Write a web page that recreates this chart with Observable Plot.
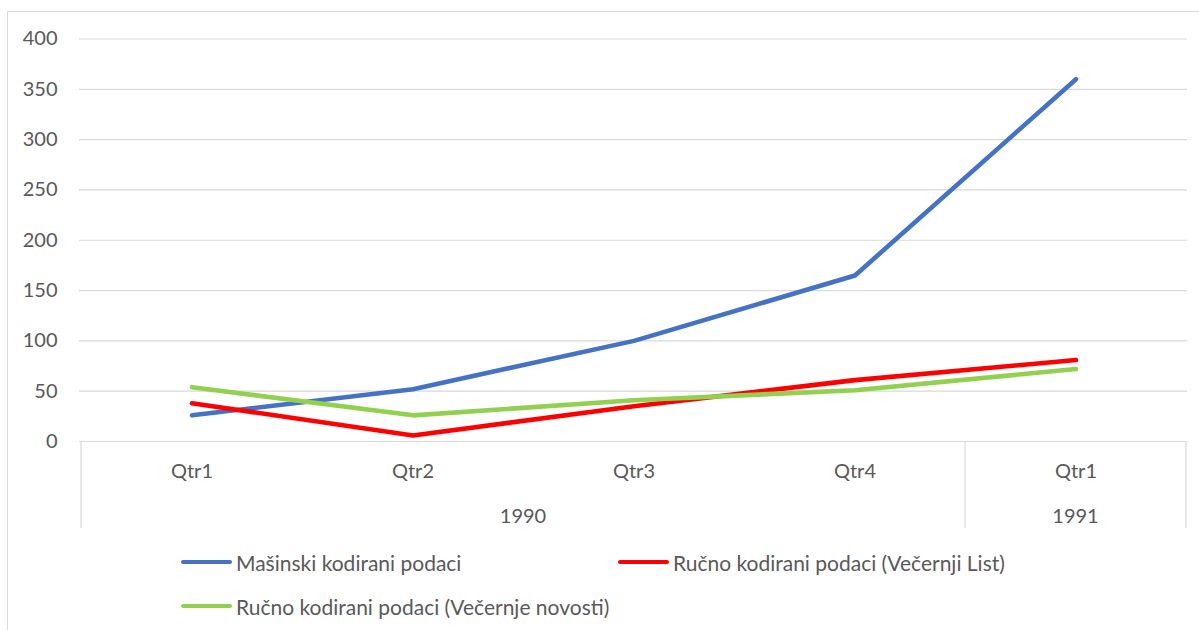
<!DOCTYPE html>
<html>
<head>
<meta charset="utf-8">
<script src="https://cdn.jsdelivr.net/npm/d3@7"></script>
<script src="https://cdn.jsdelivr.net/npm/@observablehq/plot@0.6"></script>
<style>
  html, body { margin: 0; padding: 0; background: #fff; }
  #wrap { position: relative; width: 1199px; height: 630px; overflow: hidden; font-family: Lato, "Open Sans", sans-serif; }
  #frame { position: absolute; left: 7px; top: 11px; width: 1250px; height: 700px; border: 1px solid #d9d9d9; box-sizing: border-box; }
  #chart { position: absolute; left: 0; top: 0; }
  #legend { position: absolute; left: 181px; top: 540px; display: grid; grid-template-columns: 437px auto; grid-auto-rows: 44px; color: #595959; font-size: 21px; }
  .item { display: flex; align-items: center; }
  .swatch { width: 51px; height: 4.5px; border-radius: 3px; margin-right: 4px; }
</style>
</head>
<body>
<div id="wrap">
  <div id="frame"></div>
  <div id="chart"></div>
  <div id="legend"></div>
</div>
<script>
// ---- data ----
const years = ["1990", "1990", "1990", "1990", "1991"];
const quarters = ["Qtr1", "Qtr2", "Qtr3", "Qtr4", "Qtr1"];
const seriesNames = [
  "Mašinski kodirani podaci",
  "Ručno kodirani podaci (Večernji List)",
  "Ručno kodirani podaci (Večernje novosti)"
];
const masinski = [26, 52, 100, 165, 360];
const vecernjiList = [38, 6, 35, 61, 81];
const vecernjeNovosti = [54, 26, 41, 51, 72];
const seriesColors = ["#4472C4", "#FF0000", "#92D050"];
const yTicks = [0, 50, 100, 150, 200, 250, 300, 350, 400];

// ---- build table ----
const keys = years.map((y, i) => y + "-" + quarters[i]);
const seriesValues = [masinski, vecernjiList, vecernjeNovosti];
const rows = [];
seriesNames.forEach((name, s) => {
  seriesValues[s].forEach((v, i) => rows.push({series: name, key: keys[i], value: v}));
});

const textColor = "#595959";
const gridColor = "#d9d9d9";
const font = "Lato, 'Open Sans', sans-serif";

const chart = Plot.plot({
  width: 1199,
  height: 540,
  marginLeft: 79,
  marginRight: 12,
  marginTop: 38.5,
  marginBottom: 99,
  style: {fontFamily: font, background: "transparent", overflow: "visible"},
  x: {type: "band", domain: keys, padding: 0, axis: null, label: null},
  y: {domain: [0, 400], axis: null, label: null},
  color: {domain: seriesNames, range: seriesColors},
  marks: [
    Plot.gridY(yTicks, {stroke: gridColor, strokeOpacity: 1, strokeWidth: 1.2}),
    Plot.axisY(yTicks, {tickSize: 0, tickPadding: 22, fontSize: 20, fill: textColor, label: null}),
    Plot.axisX(keys, {tickSize: 0, tickPadding: 22, fontSize: 20, fill: textColor, label: null,
      tickFormat: k => quarters[keys.indexOf(k)]}),
    Plot.line(rows, {x: "key", y: "value", z: "series", stroke: "series",
      strokeWidth: 4.6, strokeLinecap: "round", strokeLinejoin: "round"})
  ]
});
document.getElementById("chart").appendChild(chart);

// ---- two-level category axis drawn from Plot's x scale ----
const xs = chart.scale("x");
const ys = chart.scale("y");
const yBase = ys.apply(0);
const axisDepth = 87;
const svg = d3.select(chart);
const g = svg.append("g");
const groups = [];
years.forEach((y, i) => {
  if (groups.length && groups[groups.length - 1].year === y) groups[groups.length - 1].end = i;
  else groups.push({year: y, start: i, end: i});
});
const bw = xs.bandwidth;
const edges = [xs.apply(keys[0])];
groups.forEach(gr => edges.push(xs.apply(keys[gr.end]) + bw));
edges.forEach(x => {
  g.append("line").attr("x1", x).attr("x2", x).attr("y1", yBase).attr("y2", yBase + axisDepth)
    .attr("stroke", gridColor).attr("stroke-width", 1.2);
});
groups.forEach(gr => {
  const cx = (xs.apply(keys[gr.start]) + xs.apply(keys[gr.end]) + bw) / 2;
  g.append("text").attr("x", cx).attr("y", yBase + 75).attr("dy", "0.35em")
    .attr("text-anchor", "middle").attr("fill", textColor)
    .attr("font-size", 20).attr("font-family", font)
    .text(gr.year);
});

// ---- legend ----
const legend = document.getElementById("legend");
seriesNames.forEach((name, i) => {
  const it = document.createElement("div");
  it.className = "item";
  const sw = document.createElement("span");
  sw.className = "swatch";
  sw.style.background = seriesColors[i];
  const tx = document.createElement("span");
  tx.textContent = name;
  it.appendChild(sw); it.appendChild(tx);
  legend.appendChild(it);
});
</script>
</body>
</html>
